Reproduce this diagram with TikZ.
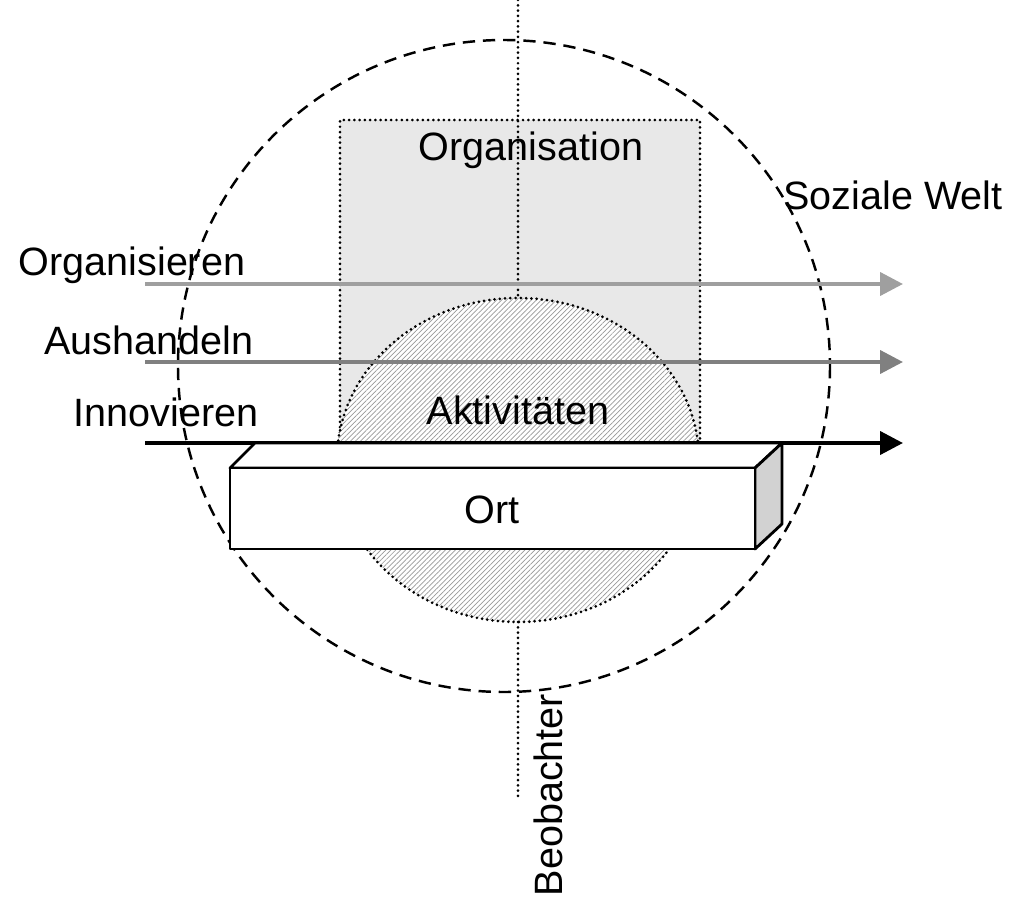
\documentclass[tikz,border=0pt]{standalone}
\usepackage{fontspec}
\setmainfont{Liberation Sans}
\usetikzlibrary{arrows.meta,patterns.meta}

\begin{document}
\begin{tikzpicture}[x=0.02cm,y=-0.02cm,
    every node/.style={font=\fontsize{22.5}{27}\selectfont,inner sep=0pt},
    dotline/.style={line width=1.7pt,line cap=round,dash pattern=on 0pt off 3pt},
    flow/.style={line width=2.3pt,-{Triangle[length=13pt,width=13pt]}},
    face/.style={draw,line width=1.6pt,line join=round}]
  \useasboundingbox (0,0) rectangle (1025,906);

  % organisation
  \fill[gray!18] (340,120) rectangle (700,443);
  \draw[dotline] (340,443) -- (340,120) -- (700,120) -- (700,443);
  \node (org) at (531,150) {Organisation};

  % activities
  \path[preaction={fill=white},pattern={Lines[angle=45,distance=2pt,line width=0.4pt]},pattern color=gray!80]
    (518,460) ellipse [x radius=181,y radius=162];
  \draw[dotline] (518,460) ellipse [x radius=181,y radius=162];
  \coordinate (akttop) at (518,298);
  \coordinate (aktbot) at (518,622);
  \node (akt) at (518,410) {Aktivitäten};

  % observer
  \coordinate (obstop) at (518,0);
  \coordinate (obsbot) at (518,800);
  \draw[dotline] (obstop) -- (akttop);
  \draw[dotline] (aktbot) -- (obsbot);
  \node[rotate=90] (obs) at (548,795) {Beobachter};

  % social world
  \draw[line width=1.4pt,dash pattern=on 7pt off 4.5pt] (504,366) circle [radius=326];
  \node (welt) at (893,195) {Soziale Welt};

  % processes
  \coordinate (o1) at (145,284);  \coordinate (o2) at (903,284);
  \coordinate (a1) at (145,362);  \coordinate (a2) at (903,362);
  \coordinate (i1) at (145,443);  \coordinate (i2) at (903,443);
  \draw[flow,color=gray!75] (o1) -- (o2);
  \draw[flow,color=gray] (a1) -- (a2);
  \draw[flow] (i1) -- (i2);
  \node (orgl) at (132,265) {Organisieren};
  \node (aush) at (149,340) {Aushandeln};
  \node (inno) at (166,412) {Innovieren};

  % place
  \draw[face,fill=white] (230,468) -- (255,443) -- (782,443) -- (755,468) -- cycle;
  \draw[face,fill=gray!35] (755,468) -- (782,443) -- (782,524) -- (755,549) -- cycle;
  \draw[face,fill=white] (230,468) rectangle (755,549);
  \node (ort) at (492,510) {Ort};
\end{tikzpicture}
\end{document}
